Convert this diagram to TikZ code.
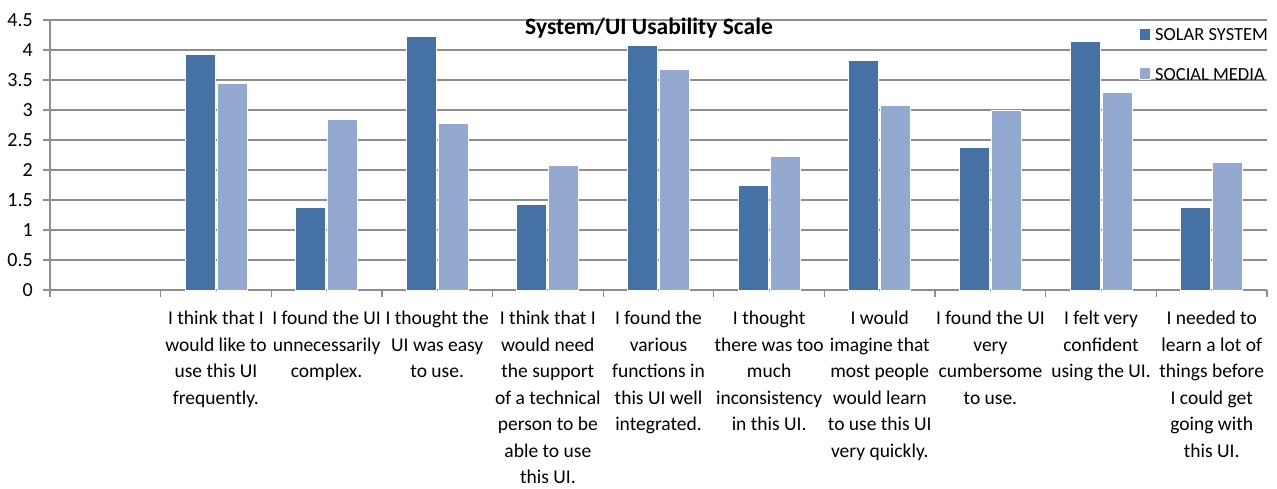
\documentclass[tikz,border=0pt]{standalone}
\usepackage{fontspec}
\setmainfont{Carlito}
\definecolor{solar}{HTML}{4671A5}
\definecolor{social}{HTML}{94A9D0}
\definecolor{grid}{HTML}{8E8E8E}
\begin{document}
\begin{tikzpicture}[x=1pt,y=-1pt,
  gridline/.style={draw=grid,line width=1.3pt},
  barS/.style={fill=solar,draw=white,line width=0.8pt},
  barM/.style={fill=social,draw=white,line width=0.8pt},
  ylab/.style={anchor=east,inner sep=0pt,font=\fontsize{20}{22}\selectfont},
  catlab/.style={anchor=north,inner sep=0pt,align=center,font=\fontsize{19.5}{26.5}\selectfont},
  legtext/.style={anchor=base west,inner sep=0pt,font=\fontsize{18.5}{20}\selectfont},
  ttl/.style={inner sep=0pt,font=\fontsize{23.5}{26}\selectfont\bfseries}]
\useasboundingbox (0,0) rectangle (1277,488);
% gridlines and y labels
\foreach \v/\t in {0/0,1/0.5,2/1,3/1.5,4/2,5/2.5,6/3,7/3.5,8/4,9/4.5}{
  \draw[gridline] (43,{290-30*\v}) -- (1267,{290-30*\v});
  \node[ylab] (y\v) at (33,{290-30*\v}) {\t};
}
\draw[gridline] (50,20) -- (50,297);
\foreach \i in {1,...,11}{
  \draw[gridline] ({50+110.636*\i},290) -- ({50+110.636*\i},297);
}
% bars
\foreach \k/\a/\b in {1/3.92/3.45,2/1.38/2.85,3/4.23/2.77,4/1.43/2.08,5/4.07/3.68,6/1.75/2.22,7/3.83/3.08,8/2.38/3.0,9/4.15/3.3,10/1.38/2.13}{
  \pgfmathsetmacro{\c}{50+110.636*(\k+0.5)}
  \draw[barS] ({\c-31},290) rectangle ({\c-1},{290-60*\a});
  \draw[barM] ({\c+1},290) rectangle ({\c+31},{290-60*\b});
}
% category labels
\node[catlab] (c1) at ({50+110.636*1.5},311) {I think that I\\would like to\\use this UI\\frequently.};
\node[catlab] (c2) at ({50+110.636*2.5},311) {I found the UI\\unnecessarily\\complex.};
\node[catlab] (c3) at ({50+110.636*3.5},311) {I thought the\\UI was easy\\to use.};
\node[catlab] (c4) at ({50+110.636*4.5},311) {I think that I\\would need\\the support\\of a technical\\person to be\\able to use\\this UI.};
\node[catlab] (c5) at ({50+110.636*5.5},311) {I found the\\various\\functions in\\this UI well\\integrated.};
\node[catlab] (c6) at ({50+110.636*6.5},311) {I thought\\there was too\\much\\inconsistency\\in this UI.};
\node[catlab] (c7) at ({50+110.636*7.5},311) {I would\\imagine that\\most people\\would learn\\to use this UI\\very quickly.};
\node[catlab] (c8) at ({50+110.636*8.5},311) {I found the UI\\very\\cumbersome\\to use.};
\node[catlab] (c9) at ({50+110.636*9.5},311) {I felt very\\confident\\using the UI.};
\node[catlab] (c10) at ({50+110.636*10.5},311) {I needed to\\learn a lot of\\things before\\I could get\\going with\\this UI.};
% title
\node[ttl] (title) at (649,28) {System/UI Usability Scale};
% legend
\fill[solar,draw=white,line width=0.6pt] (1139,28) rectangle (1150,40);
\node[legtext] (l1) at (1155,40) {SOLAR SYSTEM};
\fill[social,draw=white,line width=0.6pt] (1139,67) rectangle (1150,79);
\node[legtext] (l2) at (1155,80) {SOCIAL MEDIA};
\end{tikzpicture}
\end{document}
